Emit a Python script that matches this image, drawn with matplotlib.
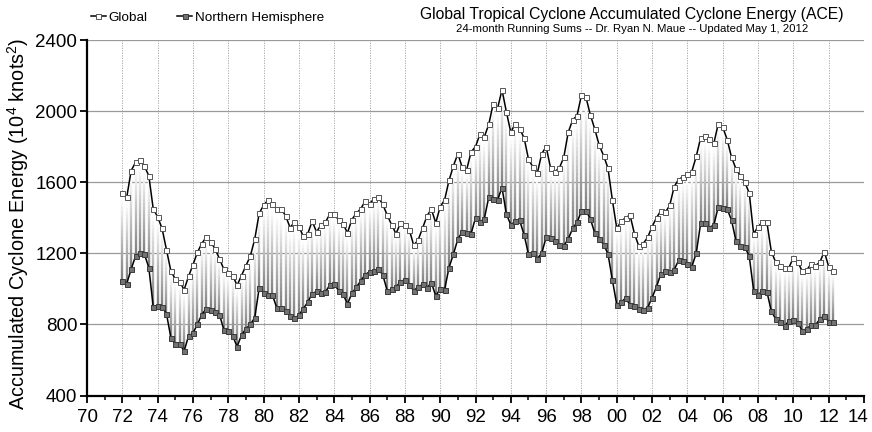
import numpy as np
import matplotlib.pyplot as plt
from matplotlib.collections import LineCollection
from matplotlib.ticker import MultipleLocator, FuncFormatter

plt.rcParams['font.family'] = ['Liberation Sans', 'DejaVu Sans']
plt.rcParams['mathtext.fontset'] = 'custom'
plt.rcParams['mathtext.rm'] = 'Liberation Sans'

# 24-month running sums of ACE (quarterly, Jan 1972 .. Apr 2012)
start_year = 1972.0
step = 0.25

global_ace = [
    1540, 1515, 1665, 1712,  1725, 1690, 1637, 1450,  1405, 1340, 1220, 1100,  # 72-74
    1055, 1040, 995, 1070,   1135, 1205, 1255, 1290,  1265, 1225, 1170, 1110,  # 75-77
    1090, 1075, 1020, 1075,  1130, 1185, 1280, 1425,  1470, 1500, 1475, 1450,  # 78-80
    1450, 1410, 1345, 1375,  1350, 1295, 1310, 1380,  1320, 1360, 1375, 1420,  # 81-83
    1420, 1388, 1365, 1315,  1390, 1425, 1450, 1493,  1480, 1505, 1515, 1475,  # 84-86
    1415, 1360, 1310, 1370,  1362, 1333, 1245, 1275,  1340, 1410, 1448, 1371,  # 87-89
    1462, 1500, 1610, 1692,  1760, 1683, 1670, 1770,  1800, 1870, 1855, 1925,  # 90-92
    2040, 2015, 2120, 1995,  1880, 1930, 1900, 1850,  1730, 1685, 1650, 1760,  # 93-95
    1800, 1680, 1660, 1680,  1740, 1880, 1950, 1975,  2090, 2080, 1980, 1900,  # 96-98
    1810, 1750, 1680, 1500,  1340, 1380, 1400, 1415,  1310, 1240, 1255, 1290,  # 99-01
    1350, 1400, 1440, 1430,  1470, 1575, 1615, 1630,  1645, 1660, 1745, 1850,  # 02-04
    1860, 1845, 1820, 1930,  1910, 1840, 1740, 1675,  1635, 1600, 1540, 1310,  # 05-07
    1350, 1375, 1375, 1210,  1150, 1130, 1120, 1120,  1175, 1150, 1100, 1105,  # 08-10
    1140, 1130, 1150, 1210,  1125, 1100,                                        # 11-12
]

nh_ace = [
    1046, 1030, 1110, 1185,  1200, 1195, 1120, 900,   905, 900, 860, 725,      # 72-74
    690, 690, 650, 735,      750, 800, 855, 888,      882, 872, 855, 770,      # 75-77
    765, 735, 675, 740,      775, 800, 838, 1005,     976, 965, 965, 892,      # 78-80
    890, 875, 850, 835,      852, 888, 925, 972,      986, 975, 982, 1022,     # 81-83
    1030, 988, 970, 915,     975, 1008, 1045, 1080,   1096, 1100, 1112, 1078,  # 84-86
    990, 998, 1010, 1040,    1052, 1023, 990, 1010,   1025, 1005, 1035, 960,   # 87-89
    1000, 995, 1120, 1195,   1280, 1320, 1315, 1310,  1400, 1375, 1395, 1515,  # 90-92
    1505, 1500, 1570, 1420,  1360, 1380, 1385, 1305,  1195, 1200, 1170, 1200,  # 93-95
    1290, 1284, 1270, 1245,  1242, 1280, 1340, 1374,  1437, 1440, 1395, 1315,  # 96-98
    1283, 1249, 1198, 1050,  911, 925, 948, 910,      905, 888, 883, 895,      # 99-01
    950, 1012, 1085, 1098,   1096, 1107, 1160, 1155,  1140, 1125, 1200, 1369,  # 02-04
    1372, 1345, 1360, 1463,  1456, 1450, 1385, 1270,  1240, 1235, 1185, 990,   # 05-07
    965, 990, 985, 875,      830, 812, 790, 820,      826, 810, 765, 775,      # 08-10
    795, 796, 830, 850,      815, 815,                                          # 11-12
]

years = start_year + step * np.arange(len(global_ace))

fig = plt.figure(figsize=(8.72, 4.32), dpi=100)
ax = fig.add_axes([87 / 872, 1 - 395.5 / 432, (864 - 87) / 872, (395.5 - 40) / 432])

# grey-to-white gradient sticks joining the two series
nseg = 24
segs, cols = [], []
for x, lo, hi in zip(years, nh_ace, global_ace):
    edges = np.linspace(lo, hi, nseg + 1)
    for k in range(nseg):
        segs.append([(x, edges[k]), (x, edges[k + 1])])
        g = min(1.0, 0.48 + 0.56 * (k + 0.5) / nseg)
        cols.append((g, g, g))
ax.add_collection(LineCollection(segs, colors=cols, linewidths=1.7, zorder=2))

ax.plot(years, nh_ace, color='black', lw=1.1, marker='s', ms=3.6,
        mfc='#737373', mec='#3a3a3a', mew=0.7, zorder=3, label='Northern Hemisphere')
ax.plot(years, global_ace, color='black', lw=1.1, marker='s', ms=3.6,
        mfc='white', mec='#555555', mew=0.7, zorder=4, label='Global')

# axes
x_end = 2014
ax.set_xlim(1970, x_end)
ax.set_ylim(400, 2400)
ax.xaxis.set_major_locator(MultipleLocator(2))
ax.xaxis.set_minor_locator(MultipleLocator(1))
# last year label is drawn separately so it stays inside the figure
ax.xaxis.set_major_formatter(FuncFormatter(
    lambda v, p: '' if round(v) >= x_end else f"{int(round(v)) % 100:02d}"))
ax.yaxis.set_major_locator(MultipleLocator(400))

ax.grid(axis='y', color='#9a9a9a', lw=0.9, ls='-')
ax.grid(axis='x', color='#a0a0a0', lw=0.6, ls=(0, (1.5, 1.5)))
ax.set_axisbelow(True)

for side in ('top', 'right'):
    ax.spines[side].set_visible(False)
for side in ('left', 'bottom'):
    ax.spines[side].set_linewidth(1.6)

ax.tick_params(axis='x', which='major', direction='out', length=5, width=1.3, pad=5, labelsize=13.5)
ax.tick_params(axis='x', which='minor', direction='out', length=3, width=1.1)
ax.tick_params(axis='y', which='major', direction='out', length=5, width=1.3, pad=2, labelsize=13.5)

fig.canvas.draw()
ref_lab = [t for t in ax.get_xticklabels() if t.get_text()][-1]
bb = ref_lab.get_window_extent()
fig.text(858 / 872, bb.y1 / fig.bbox.height, f"{x_end % 100:02d}",
         ha='center', va='top', fontsize=13.5)

fig.text(18 / 872, 1 - 224 / 432, 'Accumulated Cyclone Energy (10$^4$ knots$^2$)',
         rotation=90, ha='center', va='center', fontsize=14.3)

# legend above the plot
handles, labels = ax.get_legend_handles_labels()
fig.legend(handles[::-1], labels[::-1], loc='center left', bbox_to_anchor=(91 / 872, 1 - 18 / 432),
           ncol=2, frameon=False, fontsize=9.7, handlelength=1.1, handletextpad=0.2,
           columnspacing=2.2, borderaxespad=0, borderpad=0)

fig.text(632 / 872, 1 - 14 / 432, 'Global Tropical Cyclone Accumulated Cyclone Energy (ACE)',
         ha='center', va='center', fontsize=11.3)
fig.text(632 / 872, 1 - 29 / 432, '24-month Running Sums -- Dr. Ryan N. Maue -- Updated May 1, 2012',
         ha='center', va='center', fontsize=8.2)

fig.savefig('out.png', dpi=100)
